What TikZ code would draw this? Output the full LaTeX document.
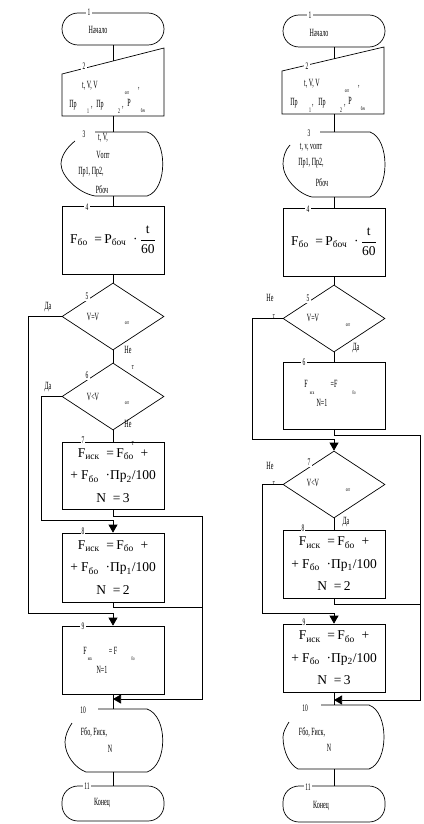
\documentclass[tikz,border=0pt]{standalone}
\usepackage{fontspec}
\setmainfont{Liberation Serif}
\newfontfamily\nf[FakeStretch=0.55]{Liberation Serif}
\usetikzlibrary{shapes.geometric,arrows.meta}
\newcommand{\sbs}[1]{\textsubscript{#1}}
\begin{document}
\begin{tikzpicture}[x=1pt,y=-1pt,
 ln/.style={line width=0.7pt},
 arr/.style={-{Triangle[length=8pt,width=9pt]}},
 pbox/.style={draw,line width=0.7pt,minimum width=102pt,minimum height=68pt,inner sep=0pt,
   font=\fontsize{13.5}{22.5}\selectfont,align=center},
 term/.style={draw,line width=0.7pt,rounded corners=16pt,minimum width=102pt,minimum height=33pt,inner sep=0pt},
 dia/.style={draw,diamond,line width=0.7pt,minimum width=102pt,minimum height=67pt,inner sep=0pt},
 lbl/.style={font=\nf\fontsize{11}{11}\selectfont,inner sep=0pt},
 num/.style={font=\nf\fontsize{10}{10}\selectfont,fill=white,inner sep=1.5pt},
 tiny/.style={font=\nf\fontsize{5.5}{5.5}\selectfont,inner sep=0pt},
]
\useasboundingbox[fill=white] (0,0) rectangle (423,824);

% ================= LEFT =================
\node[term,minimum height=32pt] (L1) at (113,29) {};
\node[num] (L1n) at (89,12) {1};
\node[lbl] (L1t) at (98,30) {Начало};

\draw[ln] (62,74) -- (164,48) -- (164,116) -- (62,116) -- cycle;
\coordinate (L2n) at (113,61);
\coordinate (L2s) at (113,116);
\node[num] (L2num) at (84,66) {2};
\node[lbl] (L2a) at (90,86) {t, V, V};
\node[tiny] (L2b) at (127,93) {опт};
\node[lbl] (L2c) at (139,89) {,};
\node[lbl] (L2d) at (73,105) {Пр};
\node[tiny,font=\nf\fontsize{7}{7}\selectfont] (L2e) at (88,111) {1};
\node[lbl] (L2f) at (92,108) {,};
\node[lbl] (L2g) at (100,105) {Пр};
\node[tiny,font=\nf\fontsize{7}{7}\selectfont] (L2h) at (119,111) {2};
\node[lbl] (L2i) at (123,108) {,};
\node[lbl] (L2j) at (129,103) {P};
\node[tiny] (L2k) at (143,111) {боч};

\draw[ln] (75,141) .. controls (66,148) and (61,157) .. (61,164)
  .. controls (61,176) and (78,193) .. (95,196) -- (147,196)
  .. controls (168,190) and (168,138) .. (147,132) -- (95,132);
\coordinate (L3n) at (113,132);
\coordinate (L3s) at (113,196);
\node[num,fill=none] (L3num) at (84,134) {3};
\node[lbl] (L3a) at (103,138) {t, V,};
\node[lbl] (L3b) at (103,155) {Vопт};
\node[lbl] (L3c) at (91,172) {Пр1, Пр2,};
\node[lbl] (L3d) at (102,190) {Рбоч};

\node[pbox] (L4) at (113,240) {F\sbs{бо} ~=\,P\sbs{боч} ~·\,$\displaystyle\frac{\mbox{t}}{\mbox{60}}$};
\node[num] (L4n) at (87,207) {4};

\node[dia] (L5) at (113,316.5) {};
\node[num] (L5n) at (87,296) {5};
\node[lbl] (L5a) at (93,317) {V=V};
\node[tiny] (L5b) at (127,323) {опт};
\node[lbl] (L5y) at (48,307) {Да};
\node[lbl] (L5x) at (128,350) {Не};
\node[lbl,font=\nf\fontsize{8.5}{8.5}\selectfont] (L5z) at (133,368) {т};

\node[dia] (L6) at (113,396.5) {};
\node[num] (L6n) at (87,375) {6};
\node[lbl] (L6a) at (93,397) {V<V};
\node[tiny] (L6b) at (127,403) {опт};
\node[lbl] (L6y) at (48,387) {Да};
\node[lbl] (L6x) at (128,424) {Не};
\node[lbl,font=\nf\fontsize{8.5}{8.5}\selectfont] (L6z) at (133,444) {т};

\node[pbox,minimum height=67pt] (L7) at (113,475.5) {F\sbs{иск} ~=\,F\sbs{бо} ~+\\+ F\sbs{бо} ~·Пр\sbs{2}/100\\N ~=\,3};
\node[num,inner sep=1pt] (L7n) at (83,440) {7};

\node[pbox,minimum height=69pt] (L8) at (113,567.5) {F\sbs{иск} ~=\,F\sbs{бо} ~+\\+ F\sbs{бо} ~·Пр\sbs{1}/100\\N ~=\,2};
\node[num,inner sep=1pt] (L8n) at (83,531) {8};

\node[pbox] (L9) at (113,660) {};
\node[num] (L9n) at (83,626) {9};
\node[lbl] (L9a) at (85,651) {F};
\node[tiny] (L9b) at (90,659) {иск};
\node[lbl] (L9c) at (113,651) {= F};
\node[tiny] (L9d) at (133,659) {бо};
\node[lbl] (L9e) at (102,670) {N=1};

\draw[ln] (72,723) .. controls (68,729) and (65,736) .. (65,742)
  .. controls (65,755) and (75,768) .. (86,772) -- (147,772)
  .. controls (168,765) and (168,716) .. (147,709) -- (98,709);
\coordinate (L10n) at (113,709);
\coordinate (L10s) at (113,772);
\node[num,fill=none] (L10num) at (83,710) {10};
\node[lbl] (L10a) at (94,732) {Fбо, Fиск,};
\node[lbl] (L10b) at (110,749) {N};

\node[term,minimum height=35pt] (L11) at (113,803.5) {};
\node[num] (L11n) at (87,786) {11};
\node[lbl] (L11t) at (102,803) {Конец};

\coordinate (La) at (28,613);
\coordinate (Lb) at (41,520);
\coordinate (Ld) at (202,516);
\coordinate (Lc) at (202,699);
\coordinate (Le) at (113,699);
\coordinate (Lf) at (202,607);

\draw[ln] (L1.south) -- (L2n);
\draw[ln] (L2s) -- (L3n);
\draw[ln] (L3s) -- (L4.north);
\draw[ln] (L4.south) -- (L5.north);
\draw[ln] (L5.south) -- (L6.north);
\draw[ln] (L6.south) -- (L7.north);
\draw[ln,arr] (L5.west) -| (La) -| (L9.north);
\draw[ln,arr] (L6.west) -| (Lb) -| (L8.north);
\draw[ln,arr] (L7.south) |- (Ld) -- (Lc) -- (Le);
\draw[ln] (L8.south) |- (Lf);
\draw[ln] (L9.south) -- (L10n);
\draw[ln] (L10s) -- (L11.north);

% ================= RIGHT =================
\node[term,minimum height=32pt] (R1) at (334,31) {};
\node[num] (R1n) at (310,15) {1};
\node[lbl] (R1t) at (319,33) {Начало};

\draw[ln] (282,71) -- (384,47) -- (384,114) -- (282,114) -- cycle;
\coordinate (R2n) at (334,58.8);
\coordinate (R2s) at (334,114);
\node[num] (R2num) at (307,66) {2};
\node[lbl] (R2a) at (312,84) {t, V, V};
\node[tiny] (R2b) at (347,91) {опт};
\node[lbl] (R2c) at (359,87) {,};
\node[lbl] (R2d) at (294,103) {Пр};
\node[tiny,font=\nf\fontsize{7}{7}\selectfont] (R2e) at (310,110) {1};
\node[lbl] (R2f) at (313,106) {,};
\node[lbl] (R2g) at (322,103) {Пр};
\node[tiny,font=\nf\fontsize{7}{7}\selectfont] (R2h) at (341,110) {2};
\node[lbl] (R2i) at (345,106) {,};
\node[lbl] (R2j) at (350,101) {P};
\node[tiny] (R2k) at (363,109) {боч};

\draw[ln] (290,145) .. controls (285,150) and (283,158) .. (283,164)
  .. controls (283,178) and (298,194) .. (312,197) -- (370,197)
  .. controls (390,190) and (390,139) .. (370,132) -- (320,132);
\coordinate (R3n) at (334,132);
\coordinate (R3s) at (334,197);
\node[num,fill=none] (R3num) at (309,133) {3};
\node[lbl] (R3a) at (311,147) {t, v, vопт};
\node[lbl] (R3b) at (311,163) {Пр1, Пр2,};
\node[lbl] (R3c) at (322,183) {Рбоч};

\node[pbox] (R4) at (334,242) {F\sbs{бо} ~=\,P\sbs{боч} ~·\,$\displaystyle\frac{\mbox{t}}{\mbox{60}}$};
\node[num] (R4n) at (308,209) {4};

\node[dia] (R5) at (334,318.5) {};
\node[num] (R5n) at (308,298) {5};
\node[lbl] (R5a) at (313,318) {V=V};
\node[tiny] (R5b) at (348,325) {опт};
\node[lbl] (R5x) at (270,298) {Не};
\node[lbl,font=\nf\fontsize{8.5}{8.5}\selectfont] (R5z) at (274,317) {т};
\node[lbl] (R5y) at (356,348) {Да};

\node[pbox,minimum height=67pt] (R6) at (334,395.5) {};
\node[num] (R6n) at (304,362) {6};
\node[lbl] (R6a) at (306,384) {F};
\node[tiny] (R6b) at (312,393) {иск};
\node[lbl] (R6c) at (334,384) {=F};
\node[tiny] (R6d) at (354,393) {бо};
\node[lbl] (R6e) at (322,403) {N=1};

\node[dia] (R7) at (334,484.5) {};
\node[num] (R7n) at (309,462) {7};
\node[lbl] (R7a) at (313,483) {V<V};
\node[tiny] (R7b) at (348,490) {опт};
\node[lbl] (R7x) at (270,466) {Не};
\node[lbl,font=\nf\fontsize{8.5}{8.5}\selectfont] (R7z) at (274,484) {т};
\node[lbl] (R7y) at (346,522) {Да};

\node[pbox] (R8) at (334,564) {F\sbs{иск} ~=\,F\sbs{бо} ~+\\+ F\sbs{бо} ~·Пр\sbs{1}/100\\N ~=\,2};
\node[num,inner sep=1pt] (R8n) at (303,528) {8};

\node[pbox] (R9) at (334,658) {F\sbs{иск} ~=\,F\sbs{бо} ~+\\+ F\sbs{бо} ~·Пр\sbs{2}/100\\N ~=\,3};
\node[num,inner sep=1pt] (R9n) at (304,622) {9};

\draw[ln] (289,722) .. controls (286,727) and (283,732) .. (283,737)
  .. controls (283,752) and (290,765) .. (298,769) -- (369,769)
  .. controls (389,762) and (389,712) .. (369,705) -- (321,705);
\coordinate (R10n) at (334,705);
\coordinate (R10s) at (334,769);
\node[num,fill=none] (R10num) at (305,708) {10};
\node[lbl] (R10a) at (312,732) {Fбо, Fиск,};
\node[lbl] (R10b) at (329,748) {N};

\node[term,minimum height=36pt] (R11) at (334,804) {};
\node[num] (R11n) at (308,787) {11};
\node[lbl] (R11t) at (321,806) {Конец};

\coordinate (Ra) at (252,439);
\coordinate (Rb) at (262,613);
\coordinate (Rd) at (420,435);
\coordinate (Rc) at (420,700);
\coordinate (Re) at (334,700);
\coordinate (Rf) at (420,604);

\draw[ln] (R1.south) -- (R2n);
\draw[ln] (R2s) -- (R3n);
\draw[ln] (R3s) -- (R4.north);
\draw[ln] (R4.south) -- (R5.north);
\draw[ln] (R5.south) -- (R6.north);
\draw[ln,arr] (R5.west) -| (Ra) -| (R7.north);
\draw[ln,arr] (R6.south) |- (Rd) -- (Rc) -- (Re);
\draw[ln] (R7.south) -- (R8.north);
\draw[ln,arr] (R7.west) -| (Rb) -| (R9.north);
\draw[ln] (R8.south) |- (Rf);
\draw[ln] (R9.south) -- (R10n);
\draw[ln] (R10s) -- (R11.north);
\end{tikzpicture}
\end{document}
